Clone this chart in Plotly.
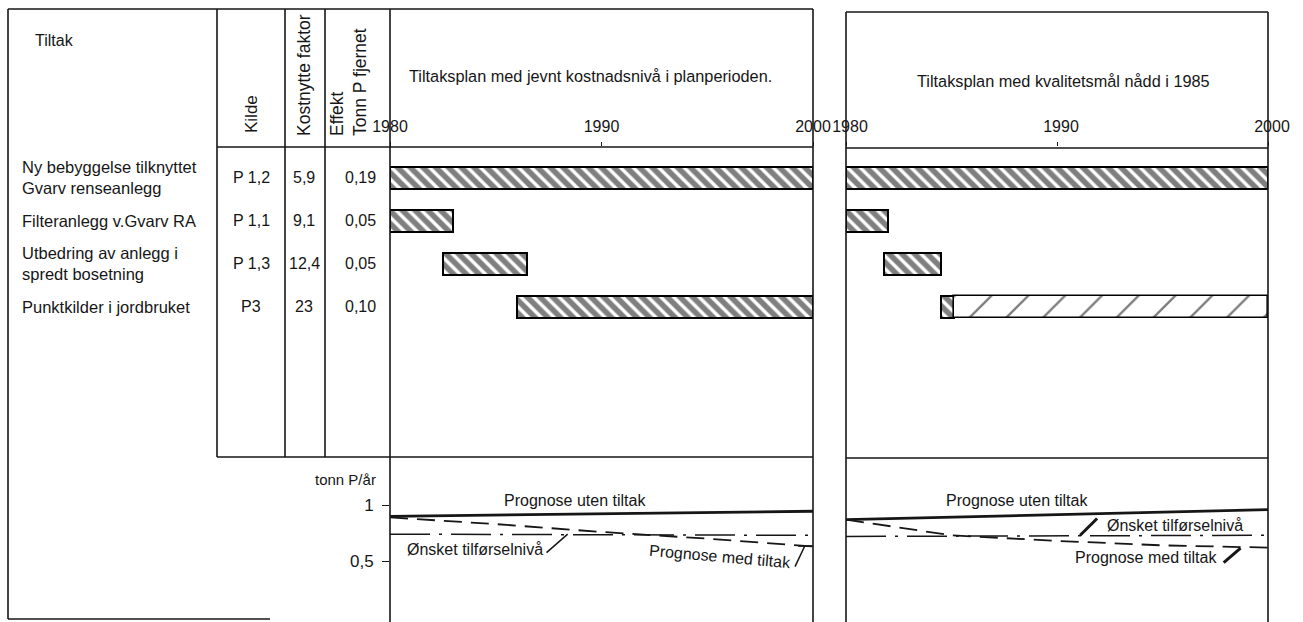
import plotly.graph_objects as go

W, H = 1303, 622

# ---------------- data ----------------
tiltak = ["Ny bebyggelse tilknyttet<br>Gvarv renseanlegg",
          "Filteranlegg v.Gvarv RA",
          "Utbedring av anlegg i<br>spredt bosetning",
          "Punktkilder i jordbruket"]
kilde = ["P 1,2", "P 1,1", "P 1,3", "P3"]
kostnytte = ["5,9", "9,1", "12,4", "23"]
effekt = ["0,19", "0,05", "0,05", "0,10"]

# Plan 1: jevnt kostnadsnivå
plan1_start = [1980, 1980, 1982.5, 1986]
plan1_end = [2000, 1983, 1986.5, 2000]
# Plan 2: kvalitetsmål nådd i 1985 (dense hatch part)
plan2_start = [1980, 1980, 1981.8, 1984.5]
plan2_end = [2000, 1982, 1984.5, 1985.1]
# Plan 2: sparse hatch continuation (row 4 only)
plan2_ext_rows = ["Punktkilder i jordbruket"]
plan2_ext_start = [1985.1]
plan2_ext_end = [2000]

year_ticks = [1980, 1990, 2000]
year_labels = ["1980", "1990", "2000"]

# Prognoses (tonn P/år)
uten1_years = [1980, 2000]
uten1 = [0.90, 0.945]
med1_years = [1980, 1985, 1990, 1995, 2000]
med1 = [0.89, 0.83, 0.76, 0.70, 0.63]
onsket1_years = [1980, 2000]
onsket1 = [0.74, 0.73]

uten2_years = [1980, 2000]
uten2 = [0.87, 0.96]
med2_years = [1980, 1982.5, 1985, 1990, 1995, 2000]
med2 = [0.87, 0.80, 0.73, 0.68, 0.64, 0.62]
onsket2_years = [1980, 2000]
onsket2 = [0.72, 0.73]

# ---------------- helpers ----------------
def fx(x):
    return x / W

def fy(y):
    return 1 - y / H

INK = "#161616"
FONT = "Liberation Sans, Arial, sans-serif"

fig = go.Figure()

dense = dict(shape="\\", size=9, solidity=0.62, fgcolor="black", bgcolor="white", fillmode="overlay")
sparse = dict(shape="/", size=26, solidity=0.09, fgcolor="black", bgcolor="white", fillmode="overlay")
BAR_W = 0.52
BAR_LINE = dict(color="black", width=2)

# Gantt 1
fig.add_trace(go.Bar(
    y=tiltak, base=plan1_start, x=[e - s for s, e in zip(plan1_start, plan1_end)],
    orientation="h", width=BAR_W,
    marker=dict(color="white", line=BAR_LINE, pattern=dense),
    xaxis="x", yaxis="y", showlegend=False, hoverinfo="skip"))
# Gantt 2
fig.add_trace(go.Bar(
    y=tiltak, base=plan2_start, x=[e - s for s, e in zip(plan2_start, plan2_end)],
    orientation="h", width=BAR_W,
    marker=dict(color="white", line=BAR_LINE, pattern=dense),
    xaxis="x2", yaxis="y2", showlegend=False, hoverinfo="skip"))
fig.add_trace(go.Bar(
    y=plan2_ext_rows, base=plan2_ext_start,
    x=[e - s for s, e in zip(plan2_ext_start, plan2_ext_end)],
    orientation="h", width=BAR_W,
    marker=dict(color="white", line=dict(color="black", width=1.6), pattern=sparse),
    xaxis="x2", yaxis="y2", showlegend=False, hoverinfo="skip"))

# Prognosis lines chart 1
fig.add_trace(go.Scatter(x=uten1_years, y=uten1, mode="lines",
                         line=dict(color=INK, width=2.8), xaxis="x3", yaxis="y3",
                         showlegend=False, hoverinfo="skip"))
fig.add_trace(go.Scatter(x=med1_years, y=med1, mode="lines",
                         line=dict(color=INK, width=1.8, dash="18px,9px"), xaxis="x3", yaxis="y3",
                         showlegend=False, hoverinfo="skip"))
fig.add_trace(go.Scatter(x=onsket1_years, y=onsket1, mode="lines",
                         line=dict(color=INK, width=1.5, dash="40px,9px,3px,9px"), xaxis="x3", yaxis="y3",
                         showlegend=False, hoverinfo="skip"))
# Prognosis lines chart 2
fig.add_trace(go.Scatter(x=uten2_years, y=uten2, mode="lines",
                         line=dict(color=INK, width=2.8), xaxis="x4", yaxis="y4",
                         showlegend=False, hoverinfo="skip"))
fig.add_trace(go.Scatter(x=med2_years, y=med2, mode="lines",
                         line=dict(color=INK, width=1.8, dash="18px,9px"), xaxis="x4", yaxis="y4",
                         showlegend=False, hoverinfo="skip"))
fig.add_trace(go.Scatter(x=onsket2_years, y=onsket2, mode="lines",
                         line=dict(color=INK, width=1.5, dash="40px,9px,3px,9px"), xaxis="x4", yaxis="y4",
                         showlegend=False, hoverinfo="skip"))

# ---------------- axes ----------------
c1 = [fx(390), fx(813)]
c2 = [fx(846), fx(1268)]
gantt_dom = [fy(457), fy(147)]
line_dom = [0, fy(457)]

xtop = dict(range=[1980, 2000], side="top", tickvals=year_ticks, ticktext=year_labels,
            ticks="outside", ticklen=4,
            tickcolor=INK, tickwidth=1.2, showgrid=False, zeroline=False, showline=False,
            tickfont=dict(family=FONT, size=16, color=INK), ticklabelstandoff=4,
            automargin=False, fixedrange=True)
ygantt = dict(range=[6.49, -0.72], showticklabels=False, ticks="", showgrid=False,
              zeroline=False, showline=False, type="category",
              categoryorder="array", categoryarray=tiltak, automargin=False, fixedrange=True)

fig.update_layout(
    width=W, height=H, margin=dict(l=0, r=0, t=0, b=0, pad=0, autoexpand=False),
    autosize=False,
    paper_bgcolor="white", plot_bgcolor="rgba(0,0,0,0)",
    barmode="overlay", bargap=0,
    xaxis=dict(domain=c1, anchor="y", **xtop),
    yaxis=dict(domain=gantt_dom, anchor="x", **ygantt),
    xaxis2=dict(domain=c2, anchor="y2", ticklabelshift=4, **xtop),
    yaxis2=dict(domain=gantt_dom, anchor="x2", **ygantt),
    xaxis3=dict(domain=c1, anchor="y3", range=[1980, 2000], visible=False,
                automargin=False, fixedrange=True),
    yaxis3=dict(domain=line_dom, anchor="x3", range=[-0.045, 1.43],
                tickvals=[0.5, 1], ticktext=["0,5", "1"], ticks="outside", ticklen=7,
                tickcolor=INK, tickwidth=1.3, showgrid=False, zeroline=False, showline=False,
                tickfont=dict(family=FONT, size=17, color=INK), ticklabelstandoff=5,
                automargin=False, fixedrange=True),
    xaxis4=dict(domain=c2, anchor="y4", range=[1980, 2000], visible=False,
                automargin=False, fixedrange=True),
    yaxis4=dict(domain=line_dom, anchor="x4", range=[-0.045, 1.43], visible=False,
                automargin=False, fixedrange=True),
    font=dict(family=FONT, size=16, color=INK),
)

# ---------------- frame / table lines ----------------
def hline(y, x0, x1, w=1.6):
    fig.add_shape(type="line", xref="paper", yref="paper", x0=fx(x0), x1=fx(x1),
                  y0=fy(y), y1=fy(y), line=dict(color=INK, width=w))

def vline(x, y0, y1, w=1.6):
    fig.add_shape(type="line", xref="paper", yref="paper", x0=fx(x), x1=fx(x),
                  y0=fy(y0), y1=fy(y1), line=dict(color=INK, width=w))

hline(9, 8, 813)
vline(8, 9, 619)
hline(619, 8, 270)
for xc in (217, 285, 325):
    vline(xc, 9, 457)
vline(390, 9, 622)
vline(813, 9, 622)
hline(147, 217, 813)
hline(457, 217, 813)
# chart 2 frame
hline(12, 846, 1268)
vline(846, 12, 622)
vline(1268, 12, 622)
hline(148, 846, 1268)
hline(458, 846, 1268)

# ---------------- texts ----------------
def pann(text, x, y, xanchor="center", yanchor="middle", **kw):
    d = dict(text=text, x=fx(x), y=fy(y), xref="paper", yref="paper",
             xanchor=xanchor, yanchor=yanchor, showarrow=False)
    d.update(kw)
    return d

ann = []
ann.append(pann("Tiltak", 33, 40, xanchor="left"))
ann.append(pann("Kilde", 252, 135, yanchor="bottom", textangle=-90, font=dict(size=17)))
ann.append(pann("Kostnytte faktor", 304, 138, yanchor="bottom", textangle=-90,
                font=dict(size=17.5)))
ann.append(pann("Effekt<br>Tonn P fjernet", 348, 138, yanchor="bottom", textangle=-90,
                align="left", font=dict(size=17.5)))
for i, name in enumerate(tiltak):
    ann.append(dict(text=name, x=fx(20), y=name, xref="paper", yref="y",
                    xanchor="left", yanchor="middle", align="left", showarrow=False,
                    font=dict(size=16.5)))
    ann.append(dict(text=kilde[i], x=fx(251), y=name, xref="paper", yref="y",
                    xanchor="center", yanchor="middle", showarrow=False))
    ann.append(dict(text=kostnytte[i], x=fx(304), y=name, xref="paper", yref="y",
                    xanchor="center", yanchor="middle", showarrow=False))
    ann.append(dict(text=effekt[i], x=fx(360), y=name, xref="paper", yref="y",
                    xanchor="center", yanchor="middle", showarrow=False))

# chart titles
ann.append(pann("Tiltaksplan med jevnt kostnadsnivå i planperioden.", 590, 76,
                font=dict(size=16.3)))
ann.append(pann("Tiltaksplan med kvalitetsmål nådd i 1985", 1063, 81, font=dict(size=16.3)))

# bottom chart labels
ann.append(pann("tonn P/år", 345, 479, font=dict(size=15)))
ann.append(dict(text="Prognose uten tiltak", x=1988.75, y=1.045, xref="x3", yref="y3",
                xanchor="center", yanchor="middle", showarrow=False))
ann.append(dict(text="Ønsket tilførselnivå", x=1984.0, y=0.60, xref="x3", yref="y3",
                xanchor="center", yanchor="middle", showarrow=False))
ann.append(dict(text="Prognose med tiltak", x=1995.6, y=0.545, xref="x3", yref="y3",
                xanchor="center", yanchor="middle", textangle=5, showarrow=False))
ann.append(dict(text="Prognose uten tiltak", x=1988.1, y=1.045, xref="x4", yref="y4",
                xanchor="center", yanchor="middle", showarrow=False))
ann.append(dict(text="Ønsket tilførselnivå", x=1995.6, y=0.82, xref="x4", yref="y4",
                xanchor="center", yanchor="middle", showarrow=False))
ann.append(dict(text="Prognose med tiltak", x=1994.2, y=0.536, xref="x4", yref="y4",
                xanchor="center", yanchor="middle", showarrow=False))
fig.update_layout(annotations=ann)

# leader lines
def leader(xr, yr, x0, y0, x1, y1, w=1.5):
    fig.add_shape(type="line", xref=xr, yref=yr, x0=x0, y0=y0, x1=x1, y1=y1,
                  line=dict(color=INK, width=w))

leader("x3", "y3", 1987.4, 0.575, 1988.4, 0.74)
leader("x3", "y3", 1999.15, 0.45, 1999.6, 0.63)
leader("x3", "y3", 1999.3, 0.634, 2000, 0.634)
leader("x4", "y4", 1991.1, 0.73, 1991.9, 0.88, w=3)
leader("x4", "y4", 1997.9, 0.485, 1998.7, 0.615, w=3)

fig.write_html(
    "out.html",
    config={"responsive": False, "displayModeBar": False},
    post_script="document.body.style.margin='0';document.body.style.overflow='hidden';",
)
